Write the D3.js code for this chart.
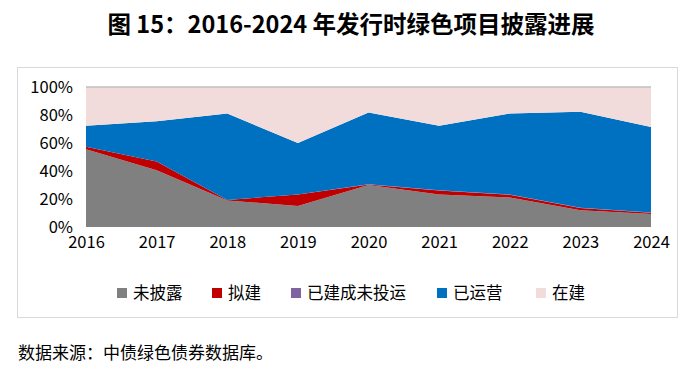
<!DOCTYPE html>
<html>
<head>
<meta charset="utf-8">
<script src="https://cdn.jsdelivr.net/npm/d3@7"></script>
<style>
  body { margin: 0; background: #fff; }
  text { font-family: "Noto Sans CJK SC", "Noto Sans", sans-serif; }
</style>
</head>
<body>
<div id="viz"></div>
<script>
let years = ['2016', '2017', '2018', '2019', '2020', '2021', '2022', '2023', '2024']
let seriesNames = ['未披露', '拟建', '已建成未投运', '已运营', '在建']
let seriesColors = ['#808080', '#C00000', '#8064A2', '#0070C0', '#F2DCDB']

// shares in %
let undisclosed = [55.5, 40.5, 19.0, 15.0, 30.0, 23.3, 21.0, 12.0, 9.3]
let planned     = [1.9, 6.2, 0.3, 8.3, 0.3, 2.7, 2.1, 1.6, 0.9]
let builtIdle   = [0.0, 0.0, 0.0, 0.0, 0.2, 0.2, 0.2, 0.2, 0.1]
let operating   = [15.0, 28.8, 61.7, 36.7, 51.2, 46.2, 57.7, 68.6, 61.1]
let building    = [27.6, 24.5, 19.0, 40.0, 18.3, 27.6, 19.0, 17.6, 28.6]
let yTicks = [0, 20, 40, 60, 80, 100]

let allSeries = [undisclosed, planned, builtIdle, operating, building]
let table = years.map((y, i) => {
  let row = { year: y }
  seriesNames.forEach((n, k) => { row[n] = allSeries[k][i] })
  return row
})

let svg = d3.select('#viz')
  .append('svg')
  .attr('width', 700)
  .attr('height', 373)

svg.append('text')
  .attr('x', 351)
  .attr('y', 33)
  .attr('text-anchor', 'middle')
  .style('font-size', '23.5px')
  .style('font-weight', 'bold')
  .attr('fill', '#000')
  .text('图 15：2016-2024 年发行时绿色项目披露进展')

// chart frame
svg.append('rect')
  .attr('x', 17.5)
  .attr('y', 67.5)
  .attr('width', 660)
  .attr('height', 250)
  .attr('fill', '#fff')
  .attr('stroke', '#d9d9d9')

let x = d3.scalePoint().domain(years).range([86, 651])
let y = d3.scaleLinear().domain([0, 100]).range([227, 87])

let stack = d3.stack().keys(seriesNames)
let layers = stack(table)

let area = d3.area()
  .x(d => x(d.data.year))
  .y0(d => y(d[0]))
  .y1(d => y(d[1]))

svg.selectAll('path.layer')
  .data(layers)
  .enter()
  .append('path')
  .attr('class', 'layer')
  .attr('d', area)
  .attr('fill', (d, i) => seriesColors[i])

// top edge of plot area
svg.append('line')
  .attr('x1', x(years[0])).attr('x2', x(years[years.length - 1]))
  .attr('y1', y(100)).attr('y2', y(100))
  .attr('stroke', '#bfbfbf')
  .attr('stroke-width', 1.5)

let yAxis = d3.axisLeft(y)
  .tickValues(yTicks)
  .tickFormat(d => d + '%')
  .tickSize(0)
  .tickPadding(13)

let gy = svg.append('g')
  .attr('transform', 'translate(86,0)')
  .call(yAxis)
gy.select('.domain').remove()
gy.selectAll('text')
  .style('font-size', '16.5px')
  .attr('fill', '#000')

let xAxis = d3.axisBottom(x)
  .tickSize(0)
  .tickPadding(9)

let gx = svg.append('g')
  .attr('transform', 'translate(0,227)')
  .call(xAxis)
gx.select('.domain').remove()
gx.selectAll('text')
  .style('font-size', '16.5px')
  .attr('fill', '#000')

// legend
let legendX = [117, 212, 291, 437, 536]
let legend = svg.selectAll('g.legend')
  .data(seriesNames)
  .enter()
  .append('g')
  .attr('class', 'legend')
  .attr('transform', (d, i) => `translate(${legendX[i]},293)`)

legend.append('rect')
  .attr('x', 0)
  .attr('y', -5)
  .attr('width', 10)
  .attr('height', 10)
  .attr('fill', (d, i) => seriesColors[i])

legend.append('text')
  .attr('x', 16)
  .attr('y', 0)
  .attr('dy', '0.35em')
  .style('font-size', '16.5px')
  .attr('fill', '#000')
  .text(d => d)

svg.append('text')
  .attr('x', 18)
  .attr('y', 359)
  .style('font-size', '17px')
  .attr('fill', '#000')
  .text('数据来源：中债绿色债券数据库。')
</script>
</body>
</html>
